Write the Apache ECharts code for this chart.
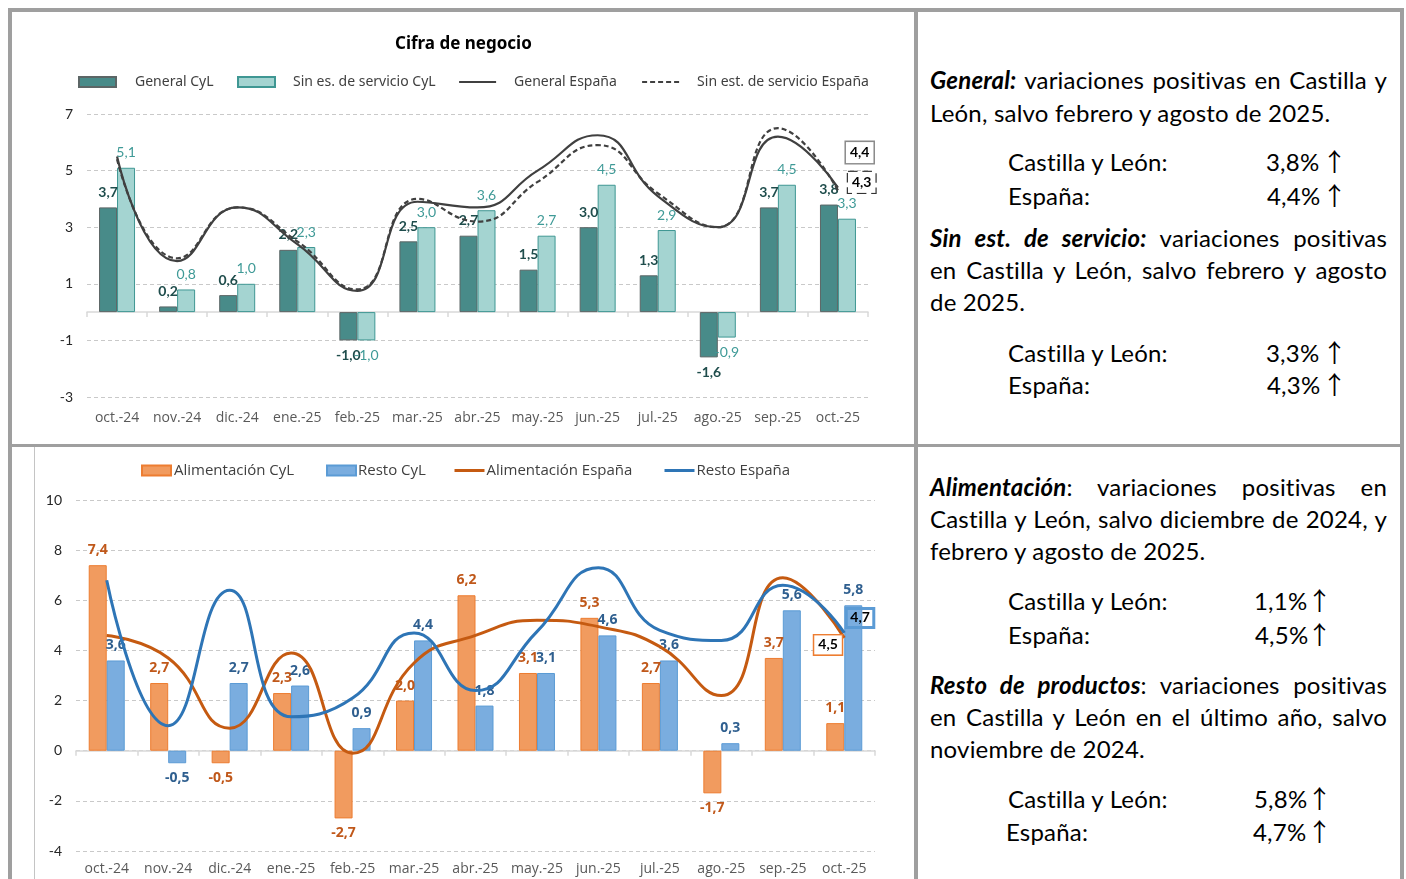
<!DOCTYPE html>
<html><head><meta charset="utf-8">
<script src="https://cdn.jsdelivr.net/npm/echarts@6/dist/echarts.min.js"></script>
<style>
html,body{margin:0;padding:0;background:#fff;width:1406px;height:879px;overflow:hidden;}
#chart{position:absolute;left:0;top:0;width:914px;height:879px;}
.fr{position:absolute;background:#9f9f9f;}
.t{position:absolute;font-family:Lato,'Noto Sans',sans-serif;font-size:24px;letter-spacing:0.2px;color:#000;white-space:nowrap;line-height:30px;}
.j{left:930px;width:457px;text-align:justify;text-align-last:justify;}
.l{left:930px;}
.bi{font-weight:bold;font-style:italic;}
.ar{font-family:'Noto Sans CJK JP','Noto Sans CJK SC','DejaVu Sans',sans-serif;font-size:25px;letter-spacing:0;}
</style></head><body>
<div id="chart"></div>
<div class="fr" style="left:8px;top:8px;width:1396px;height:4px"></div>
<div class="fr" style="left:8px;top:8px;width:4px;height:871px"></div>
<div class="fr" style="left:1400px;top:8px;width:4px;height:871px"></div>
<div class="fr" style="left:914px;top:8px;width:4px;height:871px"></div>
<div class="fr" style="left:8px;top:444px;width:1396px;height:3px"></div>
<div class="fr" style="left:34px;top:447px;width:1px;height:432px;background:#c4c4c4"></div>

<div class="t j" style="top:65px"><span class="bi">General:</span> variaciones positivas en Castilla y</div>
<div class="t l" style="top:98px">León, salvo febrero y agosto de 2025.</div>
<div class="t" style="left:1008px;top:147px">Castilla y León:</div><div class="t" style="left:1266px;top:147px">3,8%</div><div class="t ar" style="left:1322px;top:145px">↑</div>
<div class="t" style="left:1008px;top:181px">España:</div><div class="t" style="left:1267px;top:181px">4,4%</div><div class="t ar" style="left:1322px;top:179px">↑</div>
<div class="t j" style="top:223px"><span class="bi">Sin est. de servicio:</span> variaciones positivas</div>
<div class="t j" style="top:255px">en Castilla y León, salvo febrero y agosto</div>
<div class="t l" style="top:287px">de 2025.</div>
<div class="t" style="left:1008px;top:338px">Castilla y León:</div><div class="t" style="left:1266px;top:338px">3,3%</div><div class="t ar" style="left:1322px;top:336px">↑</div>
<div class="t" style="left:1008px;top:370px">España:</div><div class="t" style="left:1267px;top:370px">4,3%</div><div class="t ar" style="left:1322px;top:368px">↑</div>

<div class="t j" style="top:472px"><span class="bi">Alimentación</span>: variaciones positivas en</div>
<div class="t j" style="top:504px">Castilla y León, salvo diciembre de 2024, y</div>
<div class="t l" style="top:536px">febrero y agosto de 2025.</div>
<div class="t" style="left:1008px;top:586px">Castilla y León:</div><div class="t" style="left:1254px;top:586px">1,1%</div><div class="t ar" style="left:1307px;top:584px">↑</div>
<div class="t" style="left:1008px;top:620px">España:</div><div class="t" style="left:1255px;top:620px">4,5%</div><div class="t ar" style="left:1307px;top:618px">↑</div>
<div class="t j" style="top:670px"><span class="bi">Resto de productos</span>: variaciones positivas</div>
<div class="t j" style="top:702px">en Castilla y León en el último año, salvo</div>
<div class="t l" style="top:734px">noviembre de 2024.</div>
<div class="t" style="left:1008px;top:784px">Castilla y León:</div><div class="t" style="left:1254px;top:784px">5,8%</div><div class="t ar" style="left:1307px;top:782px">↑</div>
<div class="t" style="left:1006px;top:817px">España:</div><div class="t" style="left:1253px;top:817px">4,7%</div><div class="t ar" style="left:1307px;top:815px">↑</div>

<script>
const months = ['oct.-24','nov.-24','dic.-24','ene.-25','feb.-25','mar.-25','abr.-25','may.-25','jun.-25','jul.-25','ago.-25','sep.-25','oct.-25'];
// Cifra de negocio
const generalCyL = [3.7,0.2,0.6,2.2,-1.0,2.5,2.7,1.5,3.0,1.3,-1.6,3.7,3.8];
const sinEstCyL  = [5.1,0.8,1.0,2.3,-1.0,3.0,3.6,2.7,4.5,2.9,-0.9,4.5,3.3];
const generalEsp = [5.5,1.8,3.7,2.4,0.75,3.9,3.7,5.0,6.25,4.1,3.0,6.2,4.4];
const sinEstEsp  = [5.4,1.9,3.7,2.5,0.8,4.0,3.2,4.6,5.9,4.2,3.0,6.5,4.3];
const topAxis = {min:-3, max:7, step:2};
// Alimentación / Resto
const alimCyL   = [7.4,2.7,-0.5,2.3,-2.7,2.0,6.2,3.1,5.3,2.7,-1.7,3.7,1.1];
const restoCyL  = [3.6,-0.5,2.7,2.6,0.9,4.4,1.8,3.1,4.6,3.6,0.3,5.6,5.8];
const alimEsp   = [4.6,3.7,0.9,3.9,-0.1,3.5,4.6,5.2,4.95,4.15,2.2,6.9,4.5];
const restoEsp  = [6.8,1.0,6.4,1.35,2.1,4.7,2.4,4.75,7.3,4.8,4.4,6.6,4.7];
const botAxis = {min:-4, max:10, step:2};

const fmt = v => v.toFixed(1).replace('.', ',');
const barData = vals => vals.map(v => ({value:v, label:{position: v < 0 ? 'bottom' : 'top'}}));
const NARROW = "'Noto Sans',sans-serif";
const CAL = "Lato,'Noto Sans',sans-serif";
const GOTH = "'Open Sans',sans-serif";

const chart = echarts.init(document.getElementById('chart'), null, {renderer:'canvas'});

function catAxis(gi, margin){
  return {
    type:'category', gridIndex:gi, data:months, position:'bottom',
    axisLine:{show:false, onZero:false}, axisTick:{show:false},
    axisLabel:{show:true, interval:0, margin:margin, color:'#595959', fontFamily:GOTH, fontSize:14},
    splitLine:{show:false}
  };
}
function zeroAxis(gi){
  return {
    type:'category', gridIndex:gi, data:months, position:'bottom',
    axisLine:{show:true, onZero:true, lineStyle:{color:'#d9d9d9', width:1.5}},
    axisTick:{show:true, interval:0, length:5, lineStyle:{color:'#d9d9d9', width:1.5}},
    axisLabel:{show:false}, splitLine:{show:false}
  };
}
function valAxis(gi, ax){
  return {
    type:'value', gridIndex:gi, min:ax.min, max:ax.max, interval:ax.step,
    axisLine:{show:false}, axisTick:{show:false},
    axisLabel:{margin:14, color:'#262626', fontFamily:CAL, fontSize:14},
    splitLine:{show:true, lineStyle:{color:'#c9c9c9', type:[4,3], width:1}}
  };
}
function barLabel(color, bold, font){
  return {show:true, distance:8, formatter:p=>fmt(p.value), color:color, fontWeight:bold?'bold':'normal', fontSize:14, fontFamily:font};
}
function lg(name, left, top, w, font, size, pad, lineW){
  const o = {data:[name], left:left, top:top, padding:0, itemWidth:w, itemHeight:10,
    textStyle:{fontFamily:font, fontSize:size, color:'#404040', padding:[0,0,0,pad]}};
  if (lineW) { o.itemStyle = {opacity:0}; o.lineStyle = {width:lineW}; } else o.icon = 'rect';
  return o;
}

const option = {
  animation:false,
  title:{text:'Cifra de negocio', left:390, top:31, textStyle:{fontFamily:NARROW, fontWeight:'bold', fontSize:17, color:'#000'}},
  legend:[
    lg('General CyL', 78, 75, 37, NARROW, 14, 14, 0),
    lg('Sin es. de servicio CyL', 237, 75, 37, NARROW, 14, 13, 0),
    lg('General España', 458, 75, 37, NARROW, 14, 13, 2.2),
    lg('Sin est. de servicio España', 641, 75, 37, NARROW, 14, 13, 2.2),
    lg('Alimentación CyL', 141, 463, 29, GOTH, 15, -2, 0),
    lg('Resto CyL', 326, 463, 29, GOTH, 15, -3, 0),
    lg('Alimentación España', 453, 463, 30, GOTH, 15, -3, 3),
    lg('Resto España', 663, 463, 30, GOTH, 15, -3, 3)
  ],
  grid:[
    {left:87, top:114, width:781, height:283},
    {left:76, top:500, width:799, height:351}
  ],
  xAxis:[catAxis(0,14), zeroAxis(0), catAxis(1,11), zeroAxis(1)],
  yAxis:[valAxis(0, topAxis), valAxis(1, botAxis)],
  series:[
    {name:'General CyL', type:'bar', xAxisIndex:0, yAxisIndex:0, barWidth:18, barGap:'0%',
     data:barData(generalCyL), itemStyle:{color:'#488b89', borderColor:'#5c6666', borderWidth:1},
     label:barLabel('#1f4d4c', true, CAL)},
    {name:'Sin es. de servicio CyL', type:'bar', xAxisIndex:0, yAxisIndex:0, barWidth:18, barGap:'0%',
     data:barData(sinEstCyL), itemStyle:{color:'#a4d4d1', borderColor:'#3f9793', borderWidth:1},
     label:barLabel('#3f9a97', false, CAL)},
    {name:'General España', type:'line', xAxisIndex:0, yAxisIndex:0, smooth:0.5, symbol:'none', z:4,
     data:generalEsp, lineStyle:{color:'#404040', width:2.2}, itemStyle:{color:'#404040'},
     endLabel:{show:true, formatter:p=>fmt(p.value), distance:8, offset:[0,-35], color:'#000', fontWeight:'bold', fontSize:14, fontFamily:CAL,
       backgroundColor:'#fff', borderColor:'#8a8a8a', borderWidth:1.5, padding:[4,4,3,4]}},
    {name:'Sin est. de servicio España', type:'line', xAxisIndex:0, yAxisIndex:0, smooth:0.5, symbol:'none', z:4,
     data:sinEstEsp, lineStyle:{color:'#404040', width:2.2, type:[5,3]}, itemStyle:{color:'#404040'},
     endLabel:{show:true, formatter:p=>fmt(p.value), distance:10, offset:[0,-8], color:'#000', fontWeight:'bold', fontSize:14, fontFamily:CAL,
       backgroundColor:'#fff', borderColor:'#333', borderWidth:1.2, borderType:'dashed', padding:[4,4,3,4]}},

    {name:'Alimentación CyL', type:'bar', xAxisIndex:2, yAxisIndex:1, barWidth:18, barGap:'0%',
     data:barData(alimCyL), itemStyle:{color:'#f19b5f', borderColor:'#ed7d31', borderWidth:1},
     label:barLabel('#c0581a', true, GOTH)},
    {name:'Resto CyL', type:'bar', xAxisIndex:2, yAxisIndex:1, barWidth:18, barGap:'0%',
     data:barData(restoCyL), itemStyle:{color:'#7aaddf', borderColor:'#5b9bd5', borderWidth:1},
     label:barLabel('#2f5f8f', true, GOTH)},
    {name:'Alimentación España', type:'line', xAxisIndex:2, yAxisIndex:1, smooth:0.5, symbol:'none', z:4,
     data:alimEsp, lineStyle:{color:'#c55a11', width:3}, itemStyle:{color:'#c55a11'},
     endLabel:{show:true, formatter:p=>fmt(p.value), distance:0, offset:[-30,7], color:'#000', fontWeight:'bold', fontSize:14, fontFamily:CAL,
       backgroundColor:'#fff', borderColor:'#ed7d31', borderWidth:1.5, padding:[3,4,2,4]}},
    {name:'Resto España', type:'line', xAxisIndex:2, yAxisIndex:1, smooth:0.5, symbol:'none', z:4,
     data:restoEsp, lineStyle:{color:'#2e75b6', width:3}, itemStyle:{color:'#2e75b6'},
     endLabel:{show:true, formatter:p=>fmt(p.value), distance:2, offset:[0,-15], color:'#000', fontWeight:'bold', fontSize:14, fontFamily:CAL,
       backgroundColor:'transparent', borderColor:'#5b9bd5', borderWidth:1.5, padding:[3,4,2,4]}}
  ]
};
chart.setOption(option);
</script>
</body></html>
